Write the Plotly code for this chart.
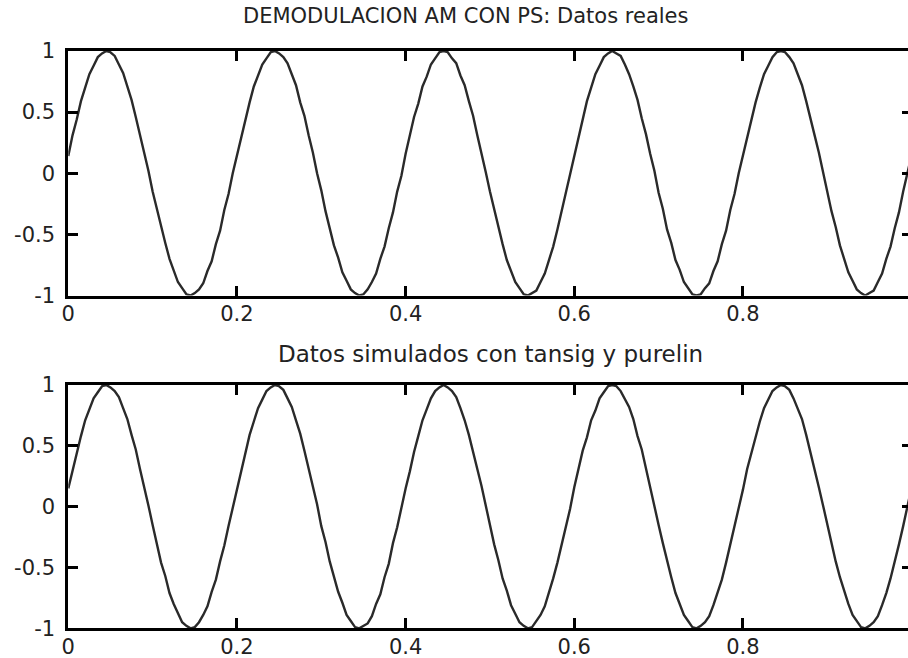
import plotly.graph_objects as go

# Time base of the sampled signal (seconds)
t_inicio = 0.0
t_paso = 0.005

# Demodulated signal, real measurements (two rows per period)
datos_reales = [
    0.14, 0.31, 0.44, 0.59, 0.70, 0.81, 0.88, 0.95, 0.98, 1.00, 0.99, 0.96, 0.89, 0.82, 0.71, 0.60, 0.46, 0.32, 0.16, 0.02,
    -0.15, -0.29, -0.45, -0.57, -0.70, -0.79, -0.89, -0.94, -0.99, -1.00, -0.98, -0.95, -0.90, -0.80, -0.72, -0.58, -0.47, -0.30, -0.17, 0.00,
    0.15, 0.29, 0.45, 0.58, 0.71, 0.80, 0.89, 0.94, 0.99, 1.00, 0.98, 0.95, 0.90, 0.81, 0.72, 0.58, 0.47, 0.31, 0.17, 0.00,
    -0.14, -0.31, -0.44, -0.59, -0.69, -0.81, -0.88, -0.95, -0.98, -1.00, -0.99, -0.95, -0.89, -0.82, -0.70, -0.60, -0.45, -0.32, -0.15, -0.02,
    0.16, 0.30, 0.46, 0.57, 0.71, 0.79, 0.89, 0.94, 0.99, 1.00, 0.99, 0.94, 0.90, 0.80, 0.72, 0.59, 0.47, 0.31, 0.17, 0.01,
    -0.15, -0.30, -0.45, -0.58, -0.71, -0.80, -0.89, -0.94, -0.99, -1.00, -0.98, -0.96, -0.89, -0.82, -0.71, -0.60, -0.46, -0.32, -0.16, -0.01,
    0.14, 0.31, 0.44, 0.59, 0.70, 0.81, 0.88, 0.95, 0.98, 1.00, 0.98, 0.96, 0.89, 0.81, 0.71, 0.60, 0.45, 0.32, 0.16, 0.02,
    -0.16, -0.29, -0.46, -0.57, -0.71, -0.79, -0.89, -0.94, -0.99, -1.00, -0.99, -0.94, -0.90, -0.80, -0.72, -0.58, -0.47, -0.30, -0.17, 0.00,
    0.15, 0.30, 0.45, 0.58, 0.70, 0.81, 0.88, 0.95, 0.99, 1.00, 0.99, 0.95, 0.90, 0.81, 0.72, 0.59, 0.46, 0.31, 0.17, 0.00,
    -0.15, -0.31, -0.44, -0.59, -0.70, -0.81, -0.88, -0.95, -0.98, -1.00, -0.98, -0.96, -0.89, -0.82, -0.70, -0.60, -0.45, -0.32, -0.15, -0.01,
    0.15,
]

# Network output (tansig hidden layer + purelin output layer)
datos_simulados = [
    0.15, 0.30, 0.45, 0.58, 0.71, 0.80, 0.89, 0.94, 0.99, 1.00, 0.98, 0.95, 0.90, 0.81, 0.72, 0.59, 0.47, 0.31, 0.17, 0.01,
    -0.15, -0.30, -0.46, -0.57, -0.71, -0.80, -0.88, -0.95, -0.98, -1.00, -0.99, -0.95, -0.89, -0.82, -0.70, -0.60, -0.45, -0.32, -0.16, -0.01,
    0.14, 0.31, 0.44, 0.59, 0.70, 0.81, 0.88, 0.95, 0.98, 1.00, 0.99, 0.96, 0.89, 0.82, 0.71, 0.60, 0.46, 0.32, 0.16, 0.02,
    -0.16, -0.29, -0.45, -0.58, -0.70, -0.79, -0.89, -0.94, -0.99, -1.00, -0.98, -0.96, -0.90, -0.80, -0.72, -0.58, -0.47, -0.30, -0.17, 0.00,
    0.15, 0.29, 0.45, 0.58, 0.71, 0.80, 0.89, 0.95, 0.98, 1.00, 0.98, 0.95, 0.90, 0.81, 0.71, 0.59, 0.46, 0.31, 0.17, 0.00,
    -0.14, -0.31, -0.44, -0.59, -0.69, -0.81, -0.88, -0.95, -0.98, -1.00, -0.99, -0.94, -0.89, -0.82, -0.71, -0.59, -0.46, -0.31, -0.16, -0.02,
    0.16, 0.30, 0.46, 0.57, 0.71, 0.79, 0.89, 0.94, 0.99, 1.00, 0.99, 0.95, 0.89, 0.82, 0.72, 0.58, 0.47, 0.31, 0.16, 0.01,
    -0.15, -0.30, -0.45, -0.58, -0.71, -0.80, -0.89, -0.94, -0.99, -1.00, -0.98, -0.95, -0.90, -0.81, -0.71, -0.60, -0.46, -0.31, -0.17, 0.00,
    0.14, 0.31, 0.44, 0.59, 0.70, 0.81, 0.88, 0.95, 0.98, 1.00, 0.99, 0.96, 0.89, 0.81, 0.72, 0.59, 0.45, 0.32, 0.16, 0.01,
    -0.15, -0.29, -0.45, -0.58, -0.70, -0.80, -0.89, -0.94, -0.99, -1.00, -0.98, -0.95, -0.90, -0.81, -0.71, -0.59, -0.46, -0.31, -0.16, 0.00,
    0.16,
]

x_ticks = [0, 0.2, 0.4, 0.6, 0.8, 1]
x_tick_text = ["0", "0.2", "0.4", "0.6", "0.8", "1"]
y_ticks = [-1, -0.5, 0, 0.5, 1]
y_tick_text = ["-1", "-0.5", "0", "0.5", "1"]
titulos = ["DEMODULACION AM CON PS: Datos reales", "Datos simulados con tansig y purelin"]

W, H = 908, 658
FONT = "DejaVu Sans"
TXT = "#222222"
LINE = "#2a2a2a"

# plot-area geometry in pixels
left_px = 68.3
px_per_unit = 843.3
x_max = (W - left_px) / px_per_unit
dom_top = [1 - 295.5 / H, 1 - 51 / H]
dom_bot = [1 - 628.3 / H, 1 - 385 / H]

fig = go.Figure()
for serie, xa_id, ya_id in [(datos_reales, "x", "y"), (datos_simulados, "x2", "y2")]:
    fig.add_trace(go.Scatter(x0=t_inicio, dx=t_paso, y=serie, mode="lines",
                             line=dict(color=LINE, width=2.4), xaxis=xa_id, yaxis=ya_id,
                             showlegend=False, hoverinfo="skip"))
# transparent copies bound to the right-hand tick axes so those axes get drawn
for serie, xa_id, ya_id in [(datos_reales, "x", "y3"), (datos_simulados, "x2", "y4")]:
    fig.add_trace(go.Scatter(x0=t_inicio, dx=t_paso, y=serie, mode="lines",
                             line=dict(color="rgba(0,0,0,0)", width=0), xaxis=xa_id,
                             yaxis=ya_id, showlegend=False, hoverinfo="skip"))

ax_common = dict(
    ticks="inside", ticklen=10, tickwidth=3, tickcolor="black",
    showline=True, linewidth=3, linecolor="black",
    showgrid=False, zeroline=False, automargin=False,
    tickfont=dict(family=FONT, size=21, color=TXT),
)

xa = dict(ax_common, domain=[left_px / W, 1], range=[0, x_max],
          tickvals=x_ticks, ticktext=x_tick_text, mirror="ticks",
          ticklabelstandoff=-3)
ya = dict(ax_common, range=[-1, 1], tickvals=y_ticks, ticktext=y_tick_text,
          ticklabelstandoff=6)
yr = dict(range=[-1, 1], tickvals=y_ticks, ticks="inside", ticklen=6, tickwidth=3,
          tickcolor="black", showticklabels=False, showline=False, showgrid=False,
          zeroline=False, automargin=False, side="right")

fig.update_layout(
    template="none",
    width=W, height=H,
    margin=dict(l=0, r=0, t=0, b=0, autoexpand=False),
    paper_bgcolor="white", plot_bgcolor="white",
    xaxis=dict(xa, anchor="y"),
    yaxis=dict(ya, domain=dom_top, anchor="x"),
    xaxis2=dict(xa, anchor="y2"),
    yaxis2=dict(ya, domain=dom_bot, anchor="x2"),
    yaxis3=dict(yr, overlaying="y", anchor="x"),
    yaxis4=dict(yr, overlaying="y2", anchor="x2"),
    annotations=[
        dict(text=titulos[0], x=465.5 / W, y=1 - 16 / H, xref="paper", yref="paper",
             xanchor="center", yanchor="middle", showarrow=False,
             font=dict(family=FONT, size=21, color=TXT)),
        dict(text=titulos[1], x=490 / W, y=1 - 354 / H, xref="paper", yref="paper",
             xanchor="center", yanchor="middle", showarrow=False,
             font=dict(family=FONT, size=23, color=TXT)),
    ],
)

fig.write_html("out.html")
